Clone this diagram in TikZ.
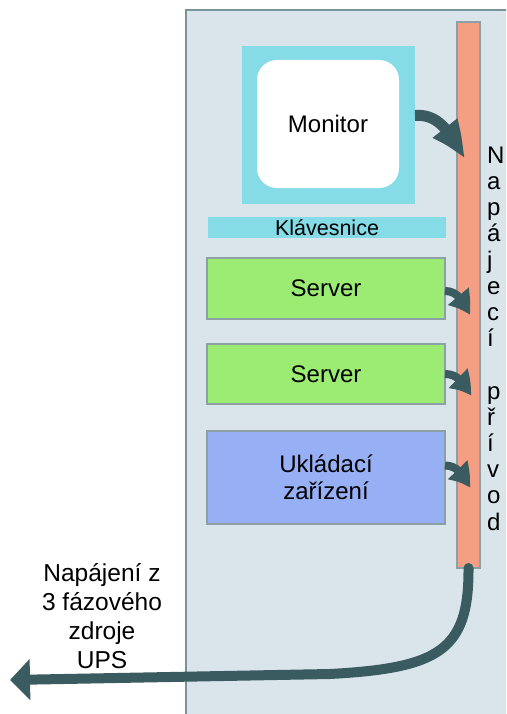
\documentclass[tikz,border=0pt]{standalone}
\usepackage{fontspec}
\setmainfont{Liberation Sans}
\usetikzlibrary{arrows.meta,bending}

\definecolor{rackfill}{HTML}{D9E5EB}
\definecolor{rackline}{HTML}{7B9499}
\definecolor{boxline}{HTML}{8DA0A5}
\definecolor{cyanfill}{HTML}{85DBE6}
\definecolor{srvfill}{HTML}{9CEC73}
\definecolor{stofill}{HTML}{97AFF5}
\definecolor{barfill}{HTML}{F49E83}
\definecolor{linkcol}{HTML}{3A5B5F}

\begin{document}
\begin{tikzpicture}[x=1pt,y=-1pt,
  plain/.style={inner sep=0pt, outer sep=0pt, font=\fontsize{24}{27}\selectfont},
  unit/.style={plain, draw=boxline, line width=1.2pt, minimum width=238pt},
  bar/.style={inner sep=0pt, outer sep=0pt, draw=boxline, line width=1.2pt,
    fill=barfill, minimum width=23pt, minimum height=546pt},
  link/.style={draw=linkcol},
]
\clip (0,0) rectangle (506,714);
\fill[white] (0,0) rectangle (506,714);

% rack enclosure
\draw[fill=rackfill, draw=rackline, line width=1.5pt] (186,10) rectangle (540,740);

% equipment
\node[plain, fill=cyanfill, minimum width=173pt, minimum height=158pt] (monframe) at (328.5,125) {};
\node[plain, fill=white, rounded corners=20pt, minimum width=142pt, minimum height=128pt] (monitor) at (328,124) {Monitor};
\node[plain, fill=cyanfill, minimum width=238pt, minimum height=21pt,
  font=\fontsize{21.5}{24}\selectfont] (kbd) at (327,227.5) {Klávesnice};
\node[unit, fill=srvfill, minimum height=61pt] (srv1) at (326,288.5) {Server};
\node[unit, fill=srvfill, minimum height=60pt] (srv2) at (326,374) {Server};
\node[unit, fill=stofill, minimum height=93pt, align=center] (store) at (326,477.5) {Ukládací\\zařízení};

% power distribution strip
\node[bar] (bar) at (468.5,295) {};

% connection points on the strip
\coordinate (p0) at (465,159);
\coordinate (p1) at (470,315);
\coordinate (p2) at (471,396);
\coordinate (p3) at (470,488);
\coordinate (ups) at (10,680);

% power cords into the strip
\draw[link, line width=11pt, -{Triangle[bend,length=38pt,width=28pt]}]
  ([yshift=9.5pt]monframe.east) to[out=5,in=121] (p0);
\draw[link, line width=8pt, -{Triangle[bend,length=23pt,width=25pt]}]
  ([yshift=-2.5pt]srv1.east) to[out=0,in=118] (p1);
\draw[link, line width=8pt, -{Triangle[bend,length=23pt,width=25pt]}]
  (srv2.east) to[out=0,in=118] (p2);
\draw[link, line width=8pt, -{Triangle[bend,length=23pt,width=25pt]}]
  ([yshift=12pt]store.east) to[out=0,in=118] (p3);

% feed from the UPS
\draw[link, line width=10pt, line cap=round, -{Triangle[length=20pt,width=40pt]}]
  (bar.south) .. controls (469,650) and (440,668) .. (330,674) -- (ups);

% labels (anchor=base sits on the last line)
\node[font=\fontsize{24.5}{29}\selectfont, align=center, anchor=base, inner sep=0pt]
  (upslabel) at (102,668) {Napájení z\\3 fázového\\zdroje\\UPS};
\node[font=\fontsize{24}{26.2}\selectfont, align=left, anchor=base west, inner sep=0pt]
  (feedlabel) at (487,530) {N\\a\\p\\á\\j\\e\\c\\í\\{}\\p\\ř\\í\\v\\o\\d};
\end{tikzpicture}
\end{document}
